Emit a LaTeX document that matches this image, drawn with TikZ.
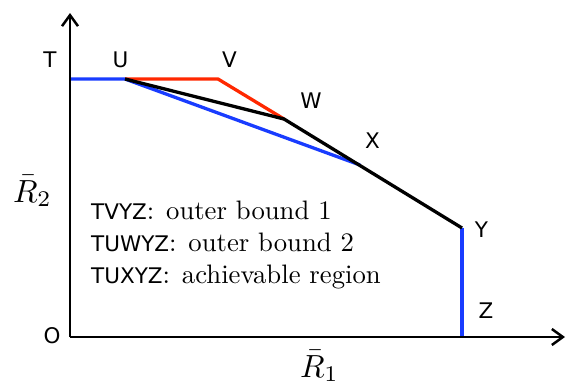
\documentclass[tikz,border=0pt]{standalone}
\usepackage{graphicx}
\usepackage{fontspec}
\newfontfamily\labfont{DejaVu Sans}
\usetikzlibrary{arrows.meta}
\definecolor{bblue}{RGB}{25,60,255}
\definecolor{rred}{RGB}{255,40,0}
\newcommand{\legtxt}[1]{\scalebox{2.67}{#1}}
\begin{document}
\begin{tikzpicture}[x=1pt,y=-1pt,
  axis/.style={line width=2.5pt,-{Straight Barb[length=11pt,width=16pt,line width=2.5pt]}},
  seg/.style={line width=3.3pt,line join=round},
  lab/.style={inner sep=0pt,font=\fontsize{21.5}{25}\selectfont\labfont},
  legend/.style={inner sep=0pt,anchor=base west,font=\fontsize{21.5}{25}\selectfont\labfont},
  axlab/.style={inner sep=0pt,anchor=base west}]
\useasboundingbox (0,0) rectangle (566,383);
\coordinate (O) at (70,337);
\coordinate (ytip) at (70,13);
\coordinate (xtip) at (565,337);
\coordinate (T) at (70,79);
\coordinate (U) at (125,79);
\coordinate (V) at (218,79);
\coordinate (W) at (284,119);
\coordinate (X) at (360,165);
\coordinate (Y) at (462,228);
\coordinate (Z) at (462,337);
\draw[seg,bblue] (T) -- (U) -- (X);
\draw[seg,rred] (U) -- (V) -- (W);
\draw[seg,bblue] (Y) -- (Z);
\draw[seg,black] (U) -- (W) -- (Y);
\draw[axis] (O) -- (ytip);
\draw[axis] (O) -- (xtip);
\node[lab] (lT) at (50,59.5) {T};
\node[lab] (lU) at (120.5,59.5) {U};
\node[lab] (lV) at (229.5,59.5) {V};
\node[lab] (lW) at (311,100.5) {W};
\node[lab] (lX) at (372.5,140.5) {X};
\node[lab] (lY) at (481.5,229.5) {Y};
\node[lab] (lZ) at (486,310.5) {Z};
\node[lab] (lO) at (52,335.5) {O};
\node[legend] (t1) at (91,219) {TVYZ\legtxt{\normalsize\rmfamily: outer bound 1}};
\node[legend] (t2) at (91,251.5) {TUWYZ\legtxt{\normalsize\rmfamily: outer bound 2}};
\node[legend] (t3) at (91,283) {TUXYZ\legtxt{\normalsize\rmfamily: achievable region}};
\node[axlab] (r2) at (13,202) {\scalebox{3.2}{$\bar{R}_2$}};
\node[axlab] (r1) at (300,377) {\scalebox{3.2}{$\bar{R}_1$}};
\end{tikzpicture}
\end{document}
